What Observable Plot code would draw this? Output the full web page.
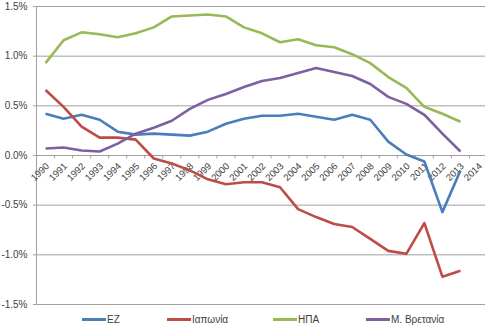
<!DOCTYPE html>
<html>
<head>
<meta charset="utf-8">
<script src="https://cdn.jsdelivr.net/npm/d3@7"></script>
<script src="https://cdn.jsdelivr.net/npm/@observablehq/plot@0.6"></script>
<style>
  html, body { margin: 0; padding: 0; background: #fff; }
  #chart svg { display: block; }
  #legend { position: relative; width: 485px; height: 21px; font-family: "Liberation Sans", Arial, sans-serif; font-size: 10px; color: #404040; }
  #legend .item { position: absolute; top: 4px; display: flex; align-items: center; white-space: nowrap; }
  #legend .sw { display: inline-block; width: 24px; height: 3px; margin-right: 1px; }
</style>
</head>
<body>
<div id="chart"></div>
<div id="legend"></div>
<script>
const axisYears = [1990,1991,1992,1993,1994,1995,1996,1997,1998,1999,2000,2001,2002,2003,2004,2005,2006,2007,2008,2009,2010,2011,2012,2013,2014];
const dataYears = [1990,1991,1992,1993,1994,1995,1996,1997,1998,1999,2000,2001,2002,2003,2004,2005,2006,2007,2008,2009,2010,2011,2012,2013];
const seriesNames = ["ΕΖ", "Ιαπωνία", "ΗΠΑ", "Μ. Βρετανία"];
const seriesColors = ["#4a7ebb", "#be4b48", "#98b954", "#7d60a0"];
const ez     = [0.42,0.37,0.41,0.36,0.24,0.21,0.22,0.21,0.20,0.24,0.32,0.37,0.40,0.40,0.42,0.39,0.36,0.41,0.36,0.14,0.01,-0.06,-0.57,-0.15];
const japan  = [0.66,0.49,0.29,0.18,0.18,0.16,-0.03,-0.08,-0.15,-0.24,-0.29,-0.27,-0.27,-0.32,-0.54,-0.62,-0.69,-0.72,-0.84,-0.96,-0.99,-0.68,-1.22,-1.16];
const usa    = [0.93,1.16,1.24,1.22,1.19,1.23,1.29,1.40,1.41,1.42,1.40,1.29,1.23,1.14,1.17,1.11,1.09,1.02,0.93,0.79,0.68,0.49,0.42,0.34];
const uk     = [0.07,0.08,0.05,0.04,0.12,0.22,0.28,0.35,0.47,0.56,0.62,0.69,0.75,0.78,0.83,0.88,0.84,0.80,0.72,0.59,0.52,0.41,0.22,0.04];
const yTicks = [-1.5,-1.0,-0.5,0.0,0.5,1.0,1.5];

const seriesValues = [ez, japan, usa, uk];
const rows = [];
seriesNames.forEach((name, i) => {
  dataYears.forEach((yr, j) => rows.push({series: name, year: yr, value: seriesValues[i][j]}));
});
const boundaries = axisYears.map(y => y - 0.5);

const font = "Liberation Sans, Arial, sans-serif";
const gray = "#a0a0a0";
const txt = "#404040";

const chart = Plot.plot({
  width: 485,
  height: 310,
  marginLeft: 36,
  marginRight: 0,
  marginTop: 6,
  marginBottom: 6,
  style: {fontFamily: font, fontSize: "10px", color: txt, background: "#fff"},
  x: {type: "linear", domain: [1989.5, 2014.5], range: [36, 487], axis: null},
  y: {domain: [-1.5, 1.5], axis: null},
  color: {domain: seriesNames, range: seriesColors},
  marks: [
    Plot.gridY(yTicks, {stroke: gray, strokeOpacity: 1, strokeWidth: 1}),
    Plot.axisY(yTicks, {tickSize: 3, tickPadding: 6, stroke: gray, tickFormat: d => d.toFixed(1) + "%", fill: txt, fontSize: 10, label: null}),
    Plot.frame({anchor: "left", stroke: gray}),
    Plot.ruleY([0], {stroke: gray, strokeWidth: 1}),
    Plot.ruleX(boundaries, {x: d => d, y1: 0, y2: -0.035, stroke: gray}),
    Plot.text(axisYears, {x: d => d, y: 0, text: d => String(d), rotate: -45, textAnchor: "end", dx: 2, dy: 9, fontSize: 9.5, fill: txt}),
    Plot.line(rows, {x: "year", y: "value", z: "series", stroke: "series", strokeWidth: 2.6, strokeLinejoin: "round", strokeLinecap: "butt"})
  ]
});
document.getElementById("chart").appendChild(chart);

const legendLefts = [82, 167, 273, 366];
const legend = document.getElementById("legend");
seriesNames.forEach((name, i) => {
  const item = document.createElement("div");
  item.className = "item";
  item.style.left = legendLefts[i] + "px";
  const sw = document.createElement("span");
  sw.className = "sw";
  sw.style.background = seriesColors[i];
  const label = document.createElement("span");
  label.textContent = name;
  item.appendChild(sw);
  item.appendChild(label);
  legend.appendChild(item);
});
</script>
</body>
</html>
